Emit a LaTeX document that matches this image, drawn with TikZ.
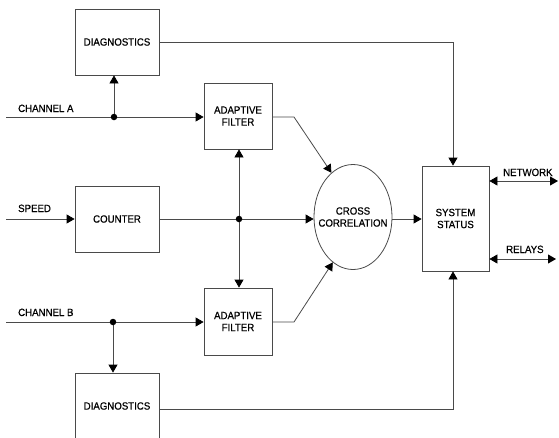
\documentclass[tikz,border=0pt]{standalone}
\usepackage{fontspec}
\setmainfont{Liberation Sans}[FakeStretch=0.92,FakeBold=0.6]
\usetikzlibrary{arrows.meta,shapes.geometric}
\definecolor{ln}{HTML}{4A4A4A}
\tikzset{
  blk/.style={draw=ln, line width=0.8pt, align=center, inner sep=0pt},
  lbl/.style={inner sep=0pt, anchor=base west},
  wire/.style={draw=ln, line width=0.8pt},
  tip/.tip={Triangle[length=8pt,width=9pt,color=black]},
  arr/.style={wire, -tip},
  darr/.style={wire, tip-tip},
  jdot/.style={circle, fill=black, inner sep=0pt, minimum size=6.5pt}
}
\begin{document}
\begin{tikzpicture}[x=1pt,y=-1pt, font=\fontsize{10.5}{12}\selectfont]
\useasboundingbox (0,0) rectangle (559,437);
\clip (0,0) rectangle (559,437);
% boxes
\node[blk, minimum width=84pt, minimum height=66pt] (diagA) at (117,42) {DIAGNOSTICS};
\node[blk, minimum width=68pt, minimum height=66pt] (filtA) at (238,116) {ADAPTIVE\\FILTER};
\node[blk, minimum width=84pt, minimum height=66pt] (counter) at (117,219) {COUNTER};
\node[blk, minimum width=68pt, minimum height=67pt] (filtB) at (238,321.5) {ADAPTIVE\\FILTER};
\node[blk, minimum width=84pt, minimum height=66pt] (diagB) at (117,406) {DIAGNOSTICS};
\node[blk, ellipse, minimum width=78pt, minimum height=105pt] (circ) at (353,217) {};
\node[align=center, inner sep=0pt] (circT) at (353,217) {CROSS\\CORRELATION};
\node[blk, minimum width=67pt, minimum height=105pt] (sys) at (455.5,218.5) {SYSTEM\\STATUS};
% labels
\node[lbl] (lchA) at (18,112) {CHANNEL A};
\node[lbl] (lspd) at (18,212) {SPEED};
\node[lbl] (lchB) at (18,316) {CHANNEL B};
\node[lbl] (lnet) at (503,176) {NETWORK};
\node[lbl] (lrel) at (506,253) {RELAYS};
% inputs
\coordinate (inA) at (6,117);
\coordinate (inS) at (6,219);
\coordinate (inB) at (6,322);
\coordinate (jA) at (114,117);
\coordinate (jB) at (113,322);
\coordinate (jS) at (239,219);
\draw[arr] (inA) -- (filtA.west |- inA);
\draw[arr] (jA) -- (jA |- diagA.south);
\node[jdot] (dA) at (jA) {};
\draw[arr] (inS) -- (counter.west |- inS);
\draw[arr] (counter.east |- inS) -- (circ.west |- inS);
\draw[arr] (jS) -- (jS |- filtA.south);
\draw[arr] (jS) -- (jS |- filtB.north);
\node[jdot] (dS) at (jS) {};
\draw[arr] (inB) -- (filtB.west |- inB);
\draw[arr] (jB) -- (jB |- diagB.north);
\node[jdot] (dB) at (jB) {};
% filters to correlation
\coordinate (kA) at (294,117);
\coordinate (kB) at (294,322);
\draw[arr] (filtA.east |- kA) -- (kA) -- (circ.116);
\draw[arr] (filtB.east |- kB) -- (kB) -- (circ.246);
% correlation to status
\draw[arr] (circ.east |- inS) -- (sys.west |- inS);
% diagnostics to status
\coordinate (colS) at (453,0);
\draw[arr] (diagA.east) -- (colS |- diagA.east) -- (colS |- sys.north);
\draw[arr] (diagB.east |- 0,409) -- (colS |- 0,409) -- (colS |- sys.south);
% outputs
\coordinate (netE) at (558,181);
\coordinate (relE) at (556,259);
\draw[darr] (sys.east |- netE) -- (netE);
\draw[darr] (sys.east |- relE) -- (relE);
\end{tikzpicture}
\end{document}
